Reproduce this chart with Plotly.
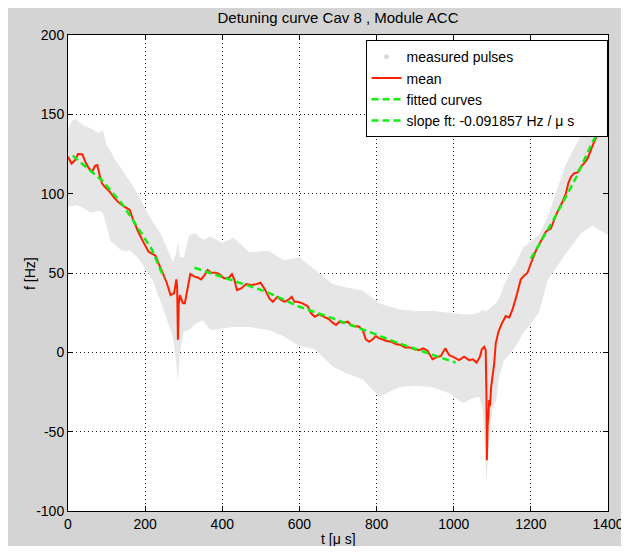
import plotly.graph_objects as go

# ---------------- data ----------------
t_mean = [0, 9, 18, 26, 37, 45, 54, 63, 70, 76, 82, 88, 95, 108, 121, 134, 147, 160, 169, 182,
          197, 209, 216, 227, 235, 246, 255, 266, 275, 281, 283, 285, 287, 290, 298, 303, 310, 317,
          328, 336, 345, 354, 362, 371, 384, 392, 405, 418, 425, 431, 438, 449, 462, 475, 488, 499,
          509, 522, 531, 543, 552, 561, 571, 580, 587, 595, 608, 621, 630, 640, 651, 664, 677, 686,
          695, 703, 714, 725, 734, 742, 755, 764, 772, 781, 790, 798, 807, 815, 824, 837, 850, 863,
          874, 885, 898, 910, 921, 932, 945, 955, 967, 978, 988, 1001, 1014, 1027, 1040, 1050, 1059,
          1068, 1073, 1079, 1083, 1085, 1086, 1088, 1090, 1092, 1094, 1097, 1101, 1105, 1109, 1116,
          1125, 1135, 1144, 1152, 1161, 1165, 1174, 1183, 1191, 1200, 1213, 1226, 1239, 1252, 1260,
          1269, 1282, 1291, 1297, 1304, 1312, 1321, 1330, 1338, 1347, 1355, 1364, 1373, 1381, 1390,
          1396]
f_mean = [123.3, 119, 121, 125, 124.8, 120, 116, 113.8, 117.6, 118, 111.7, 106.5, 104.4, 101.2, 97,
          93.9, 91.7, 89.7, 83.4, 76, 68.7, 63.4, 62.4, 60.9, 56, 49.8, 44.5, 36.1, 37.2, 46, 41, 8,
          30, 36, 31, 31, 40, 49.3, 47.7, 47.2, 46, 48.7, 51.9, 50.2, 50.2, 49.3, 46.6, 47.2, 49.3,
          46, 39.2, 40.3, 43, 42.4, 43, 43.9, 40.3, 34, 31.9, 35, 33, 31.9, 33, 35, 31.9, 31.9, 30.9,
          29.2, 24.6, 22.4, 24, 22.2, 20.8, 18.7, 17.2, 19.3, 18.7, 19.3, 17.2, 16.6, 16.1, 14.1, 8.2,
          6.7, 8.2, 10.3, 8.8, 8.2, 7.3, 6.7, 5.2, 4.6, 3.1, 3.1, 1.9, 1.4, 2.5, 1, -4.4, -3.2, -2.3,
          2.5, -1.7, -3.2, -4.9, -2.8, -4.9, -4.4, -6.5, -2.8, 1.9, 3.5, 1.4, -30, -68, -45, -40, -30,
          -34, -22, -15, -6.9, 5.7, 13, 18.3, 22.9, 22, 26.7, 34, 38, 46, 48.5, 50, 56, 64, 70, 76,
          78.1, 83.4, 88.6, 94.9, 100.2, 106.5, 110.6, 112.8, 113.4, 117, 119.1, 122.2, 127.5, 132.7,
          137, 142.2, 146.4, 147]

# envelope of the measured-pulse cloud
t_env = [0, 10, 20, 40, 60, 80, 90, 100, 110, 120, 140, 160, 180, 200, 220, 240, 260, 272, 280,
         285, 290, 300, 315, 330, 350, 370, 400, 430, 470, 520, 560, 600, 640, 686, 720, 764, 807,
         859, 900, 945, 990, 1023, 1050, 1066, 1075, 1080, 1085, 1090, 1100, 1110, 1118, 1130, 1150,
         1161, 1180, 1200, 1221, 1243, 1290, 1330, 1360, 1385, 1400]
f_env_upper = [140, 146, 147, 143, 141, 138, 140, 131, 127, 122, 115, 108, 100, 91, 82, 75, 64, 57,
               62, 70, 60, 60, 74, 75, 71, 73, 69, 72, 63, 64, 58, 60, 52, 43, 41, 39, 31, 27, 26,
               26, 25, 24, 24, 25, 27, 26, 26, 27, 29, 31, 34, 42, 52, 56, 66, 70, 74, 85, 118, 137,
               145, 150, 150]
f_env_lower = [92, 92, 93, 91, 88, 89, 88, 80, 70, 68, 64, 64, 60, 53, 45, 32, 19, 10, -5, -18, 0,
               13, 14, 18, 20, 14, 15, 16, 16, 14, 10, 4, 2, -9, -13, -17, -28, -22, -21, -22, -26,
               -32, -29, -28, -35, -60, -82, -60, -36, -30, -15, -5, 0, 4, 12, 18, 25, 45, 62, 75,
               80, 76, 74]

t_fit = [12, 35, 61, 87, 139, 151, 182, 216, 242, 250, None, 1200, 1256, 1317, 1360, 1398]
f_fit = [124, 119, 113.8, 108.6, 94, 89.7, 78, 65.5, 50.8, 47, None, 59, 82.3, 110, 132.7, 148]

t_slope = [328, 427, 514, 600, 687, 773, 859, 998, 1005]
f_slope = [53.3, 45.5, 38.2, 28.7, 21.4, 13.6, 5.6, -5.9, -6.5]

x_ticks = [0, 200, 400, 600, 800, 1000, 1200, 1400]
y_ticks = [-100, -50, 0, 50, 100, 150, 200]

title_text = "Detuning curve Cav 8 , Module ACC"
x_label = "t [\u03bc s]"
y_label = "f [Hz]"
legend_names = ["measured pulses", "mean", "fitted curves", "slope ft: -0.091857 Hz / \u03bc s"]

# ---------------- figure ----------------
FONT = "Liberation Sans, Arial, Helvetica, sans-serif"
CLOUD = "#e6e6e6"
FIG_BG = "#d4d4d4"
PAD = "\u00a0" * 7  # MATLAB legend box leaves extra room to the right

fig = go.Figure()

fig.add_trace(go.Scatter(x=t_env, y=f_env_lower, mode="lines", line=dict(width=0, color=CLOUD),
                         showlegend=False, hoverinfo="skip"))
fig.add_trace(go.Scatter(x=t_env, y=f_env_upper, mode="lines", line=dict(width=0, color=CLOUD),
                         fill="tonexty", fillcolor=CLOUD, showlegend=False, hoverinfo="skip"))
fig.add_trace(go.Scatter(x=[None], y=[None], mode="markers", name=legend_names[0],
                         marker=dict(color="#d8d8d8", size=5)))
fig.add_trace(go.Scatter(x=t_mean, y=f_mean, mode="lines", name=legend_names[1],
                         line=dict(color="#ff2000", width=2)))
fig.add_trace(go.Scatter(x=t_fit, y=f_fit, mode="lines", name=legend_names[2],
                         line=dict(color="#11ee11", width=2.5, dash="7px,4px")))
fig.add_trace(go.Scatter(x=t_slope, y=f_slope, mode="lines", name=legend_names[3] + PAD,
                         line=dict(color="#11ee11", width=2.5, dash="7px,4px")))

axis_common = dict(showline=True, linecolor="black", linewidth=1, mirror="ticks",
                   ticks="inside", ticklen=5, tickcolor="black", showgrid=True,
                   gridcolor="#222222", griddash="1px,3px", gridwidth=1, zeroline=False,
                   automargin=False, layer="above traces",
                   tickfont=dict(family=FONT, size=14, color="black"))

fig.update_xaxes(range=[0, 1400], tickvals=x_ticks, ticktext=[str(v) for v in x_ticks],
                 **axis_common)
fig.update_yaxes(range=[-100, 200], tickvals=y_ticks, ticktext=[str(v) for v in y_ticks],
                 **axis_common)

# figure is 621x538 (page body adds an 8px offset); plot box at page x 68..608, y 35..511
fig.update_layout(
    width=621, height=538, autosize=False,
    margin=dict(l=60, r=21, t=27, b=35),
    paper_bgcolor=FIG_BG, plot_bgcolor="white",
    font=dict(family=FONT, size=14, color="black"),
    title=dict(text=title_text, x=0.5, xref="paper", xanchor="center",
               y=1 - 10 / 538, yref="container", yanchor="middle",
               font=dict(family=FONT, size=15, color="black")),
    legend=dict(x=0.551, y=0.989, xanchor="left", yanchor="top", bgcolor="white",
                bordercolor="black", borderwidth=1, font=dict(family=FONT, size=14),
                tracegroupgap=0, traceorder="normal"),
    annotations=[
        dict(text=x_label, xref="paper", yref="paper", x=0.5, y=-0.058, xanchor="center",
             yanchor="middle", showarrow=False, font=dict(family=FONT, size=14, color="black")),
        dict(text=y_label, xref="paper", yref="paper", x=-0.0704, y=0.5, xanchor="center",
             yanchor="middle", textangle=-90, showarrow=False,
             font=dict(family=FONT, size=14, color="black")),
    ],
    showlegend=True,
)

fig.write_html("out.html")
